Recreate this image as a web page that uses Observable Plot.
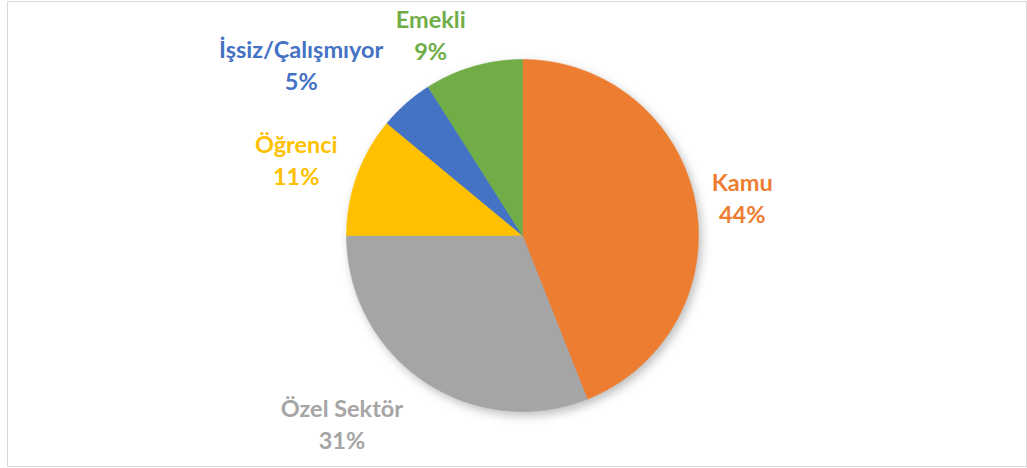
<!DOCTYPE html>
<html>
<head>
<meta charset="utf-8">
<script src="https://cdn.jsdelivr.net/npm/d3@7"></script>
<script src="https://cdn.jsdelivr.net/npm/@observablehq/plot@0.6"></script>
<style>
  html, body { margin: 0; padding: 0; background: #fff; }
  #chart { position: relative; width: 1027px; height: 468px; }
</style>
</head>
<body>
<div id="chart"></div>
<script>
const categories = ["Kamu", "Özel Sektör", "Öğrenci", "İşsiz/Çalışmıyor", "Emekli"];
const values = [44, 31, 11, 5, 9];
const colors = ["#ED7D31", "#A5A5A5", "#FFC000", "#4472C4", "#70AD47"];

const W = 1027, H = 468;
const R = 176;            // pie radius in px
const cx = 522, cy = 235; // pie centre in px

// data units: 1 = pie radius
const xDomain = [-cx / R, (W - cx) / R];
const yDomain = [-(H - cy) / R, cy / R];

const pie = d3.pie().sort(null).value(d => d.value);
const arcs = pie(categories.map((c, i) => ({category: c, value: values[i]})));

// slice outlines (angle measured clockwise from 12 o'clock)
const slicePts = [];
arcs.forEach(a => {
  const c = a.data.category;
  slicePts.push({category: c, x: 0, y: 0});
  const n = Math.max(2, Math.ceil((a.endAngle - a.startAngle) / 0.01));
  for (let k = 0; k <= n; k++) {
    const t = a.startAngle + (a.endAngle - a.startAngle) * k / n;
    slicePts.push({category: c, x: Math.sin(t), y: Math.cos(t)});
  }
  slicePts.push({category: c, x: 0, y: 0});
});

// label placement: outside the pie at the mid-angle, nudged like Excel's best fit (px)
const nudge = {
  "Kamu": [-5, 4],
  "Özel Sektör": [-52, -2],
  "Öğrenci": [-11, 1],
  "İşsiz/Çalışmıyor": [-70, 0],
  "Emekli": [-28, 18]
};
const labels = arcs.map(a => {
  const m = (a.startAngle + a.endAngle) / 2;
  const [dx, dy] = nudge[a.data.category];
  return {
    category: a.data.category,
    text: a.data.category + "\n" + a.data.value + "%",
    x: 1.3 * Math.sin(m) + dx / R,
    y: 1.3 * Math.cos(m) - dy / R
  };
});

const plot = Plot.plot({
  width: W,
  height: H,
  margin: 0,
  x: {domain: xDomain, range: [0, W], axis: null},
  y: {domain: yDomain, range: [H, 0], axis: null},
  color: {domain: categories, range: colors},
  style: {background: "transparent"},
  marks: [
    Plot.line(slicePts, {x: "x", y: "y", z: "category", fill: "category", stroke: "category", strokeWidth: 0.5, curve: "linear"}),
    Plot.text(labels, {
      x: "x", y: "y", text: "text", fill: "category",
      fontSize: 23.5, fontWeight: "bold", fontFamily: "Lato, 'Open Sans', sans-serif",
      lineHeight: 1.36, textAnchor: "middle"
    })
  ]
});

// soft shadow like the original
const lineG = plot.querySelector('g[aria-label="line"]');
if (lineG) lineG.style.filter = "drop-shadow(3px 4px 5px rgba(0,0,0,0.25))";

const chart = document.getElementById("chart");
chart.appendChild(plot);
const frame = document.createElement("div");
frame.style.cssText = "position:absolute;left:7px;top:1px;width:1018px;height:464px;border:1px solid #d9d9d9;pointer-events:none;";
chart.appendChild(frame);
</script>
</body>
</html>
